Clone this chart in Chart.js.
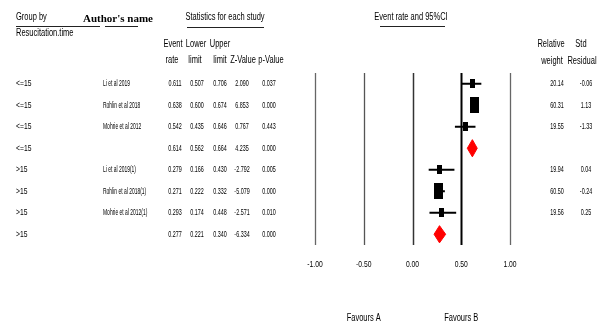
<!DOCTYPE html>
<html>
<head>
<meta charset="utf-8">
<script src="https://cdn.jsdelivr.net/npm/chart.js@4.4.1/dist/chart.umd.min.js"></script>
<style>
  html, body { margin: 0; padding: 0; background: #fff; }
  #wrap { width: 610px; height: 328px; }
</style>
</head>
<body>
<div id="wrap"><canvas id="forest" width="610" height="328"></canvas></div>
<script>
// datos
const grupos = ["<=15", "<=15", "<=15", "<=15", ">15", ">15", ">15", ">15"];
const autores = ["Li et al 2019", "Rohlin et al 2018", "Mohrie et al 2012", "",
                 "Li et al 2019(1)", "Rohlin et al 2018(1)", "Mohrie et al 2012(1)", ""];
const tasas = [0.611, 0.638, 0.542, 0.614, 0.279, 0.271, 0.293, 0.277];
const inferior = [0.507, 0.600, 0.435, 0.562, 0.166, 0.222, 0.174, 0.221];
const superior = [0.706, 0.674, 0.646, 0.664, 0.430, 0.332, 0.448, 0.340];
const zValores = ["2.090", "6.853", "0.767", "4.235", "-2.792", "-5.079", "-2.571", "-6.334"];
const pValores = ["0.037", "0.000", "0.443", "0.000", "0.005", "0.000", "0.010", "0.000"];
const pesos = [20.14, 60.31, 19.55, null, 19.94, 60.50, 19.56, null];
const residuos = ["-0.06", "1.13", "-1.33", "", "0.04", "-0.24", "0.25", ""];
const esResumen = [false, false, false, true, false, false, false, true];
const ticksX = [-1, -0.5, 0, 0.5, 1];
const ticksLabels = ["-1.00", "-0.50", "0.00", "0.50", "1.00"];

const fila = i => i + 1;

// cajas negras: tamaño segun el peso
function cajaPeso(peso) {
    const c = document.createElement("canvas");
    c.width = Math.round(3 + peso / 10);
    c.height = Math.round(5.5 + peso * 0.175);
    const g = c.getContext("2d");
    g.fillStyle = "#000";
    g.fillRect(0, 0, c.width, c.height);
    return c;
}

const datasets = [];

// intervalos de confianza
tasas.forEach((t, i) => {
    if (esResumen[i]) return;
    datasets.push({
        type: "line",
        data: [{x: inferior[i], y: fila(i)}, {x: superior[i], y: fila(i)}],
        borderColor: "#000",
        borderWidth: 2,
        pointRadius: 0,
        showLine: true
    });
});

// estimaciones
const idxEstudios = tasas.map((t, i) => i).filter(i => !esResumen[i]);
datasets.push({
    type: "scatter",
    data: idxEstudios.map(i => ({x: tasas[i], y: fila(i)})),
    pointStyle: ctx => cajaPeso(pesos[idxEstudios[ctx.dataIndex]] || 20),
    pointRadius: 4
});

// rombos resumen
tasas.forEach((t, i) => {
    if (!esResumen[i]) return;
    datasets.push({
        type: "line",
        data: [
            {x: inferior[i], y: fila(i)},
            {x: t, y: fila(i) - 0.4},
            {x: superior[i], y: fila(i)},
            {x: t, y: fila(i) + 0.4},
            {x: inferior[i], y: fila(i)}
        ],
        borderColor: "#f00",
        backgroundColor: "#f00",
        borderWidth: 1,
        pointRadius: 0,
        tension: 0,
        fill: "shape",
        showLine: true
    });
});

function texto(ctx, s, x, y, o = {}) {
    ctx.save();
    ctx.translate(x, y);
    ctx.scale(o.sx || 0.72, 1);
    ctx.font = (o.weight || "normal") + " " + (o.size || 9) + "px " + (o.family || "'Liberation Sans', Arial, sans-serif");
    ctx.textAlign = o.align || "center";
    ctx.textBaseline = "middle";
    ctx.fillStyle = o.color || "#000";
    ctx.fillText(s, 0, 0);
    ctx.restore();
}

function linea(ctx, x1, y1, x2, y2, color, w) {
    ctx.save();
    ctx.strokeStyle = color;
    ctx.lineWidth = w;
    ctx.beginPath();
    ctx.moveTo(x1, y1);
    ctx.lineTo(x2, y2);
    ctx.stroke();
    ctx.restore();
}

// lineas verticales de referencia
const estiloGrid = {"-1": ["#666", 1.3], "-0.5": ["#555", 1.3], "0": ["#333", 1.5], "0.5": ["#000", 2], "1": ["#666", 1.3]};
const gridPlugin = {
    id: "grid",
    beforeDatasetsDraw(chart) {
        const {ctx, chartArea, scales} = chart;
        ticksX.forEach(v => {
            const x = Math.round(scales.x.getPixelForValue(v)) + 0.5;
            const [c, w] = estiloGrid[String(v)];
            linea(ctx, x, chartArea.top, x, chartArea.bottom, c, w);
        });
    }
};

const textosPlugin = {
    id: "textos",
    afterDraw(chart) {
        const {ctx, scales} = chart;
        const h = {size: 10, sx: 0.75};
        // cabeceras
        texto(ctx, "Group by", 16, 17, {...h, align: "left"});
        texto(ctx, "Author's name", 83, 19, {size: 11, sx: 1, weight: "bold", align: "left", family: "'Liberation Serif', serif"});
        linea(ctx, 16, 26.5, 100, 26.5, "#222", 1);
        linea(ctx, 105, 26.5, 138, 26.5, "#222", 1);
        texto(ctx, "Resucitation.time", 16, 33, {...h, align: "left"});
        texto(ctx, "Statistics for each study", 225, 17, h);
        linea(ctx, 187, 27.5, 264, 27.5, "#222", 1);
        texto(ctx, "Event", 173, 44, h);
        texto(ctx, "Lower", 196, 44, h);
        texto(ctx, "Upper", 220, 44, h);
        texto(ctx, "rate", 172, 60, h);
        texto(ctx, "limit", 195, 60, h);
        texto(ctx, "limit", 220, 60, h);
        texto(ctx, "Z-Value", 243, 60, h);
        texto(ctx, "p-Value", 271, 60, h);
        texto(ctx, "Event rate and 95%CI", 411, 17, h);
        linea(ctx, 380, 26.5, 445, 26.5, "#222", 1);
        texto(ctx, "Relative", 551, 44, h);
        texto(ctx, "Std", 581, 44, h);
        texto(ctx, "weight", 552, 61, h);
        texto(ctx, "Residual", 582, 61, h);

        // filas
        const d = {size: 9, sx: 0.6};
        grupos.forEach((g, i) => {
            const y = scales.y.getPixelForValue(fila(i));
            texto(ctx, g, 16, y, {...d, sx: 0.75, align: "left"});
            if (autores[i]) texto(ctx, autores[i], 103, y, {...d, sx: 0.55, align: "left"});
            texto(ctx, tasas[i].toFixed(3), 175, y, d);
            texto(ctx, inferior[i].toFixed(3), 197, y, d);
            texto(ctx, superior[i].toFixed(3), 220, y, d);
            texto(ctx, zValores[i], 242, y, d);
            texto(ctx, pValores[i], 269, y, d);
            if (pesos[i] !== null) texto(ctx, pesos[i].toFixed(2), 557, y, d);
            if (residuos[i]) texto(ctx, residuos[i], 586, y, d);
        });

        // etiquetas del eje
        ticksX.forEach((v, k) => {
            texto(ctx, ticksLabels[k], scales.x.getPixelForValue(v), 265, {size: 9, sx: 0.75});
        });
        texto(ctx, "Favours A", scales.x.getPixelForValue(-0.5), 318, h);
        texto(ctx, "Favours B", scales.x.getPixelForValue(0.5), 318, h);
    }
};

const fondoPlugin = {
    id: "fondo",
    beforeDraw(chart) {
        const ctx = chart.ctx;
        ctx.save();
        ctx.fillStyle = "#fff";
        ctx.fillRect(0, 0, chart.width, chart.height);
        ctx.restore();
    }
};

new Chart(document.getElementById("forest"), {
    type: "scatter",
    data: { datasets },
    options: {
        responsive: false,
        animation: false,
        layout: { padding: { left: 315, right: 100, top: 73, bottom: 83 } },
        scales: {
            x: { type: "linear", min: -1, max: 1, display: false },
            y: { type: "linear", min: 0.5, max: 8.5, reverse: true, display: false }
        },
        plugins: {
            legend: { display: false },
            tooltip: { enabled: false }
        }
    },
    plugins: [fondoPlugin, gridPlugin, textosPlugin]
});
</script>
</body>
</html>
